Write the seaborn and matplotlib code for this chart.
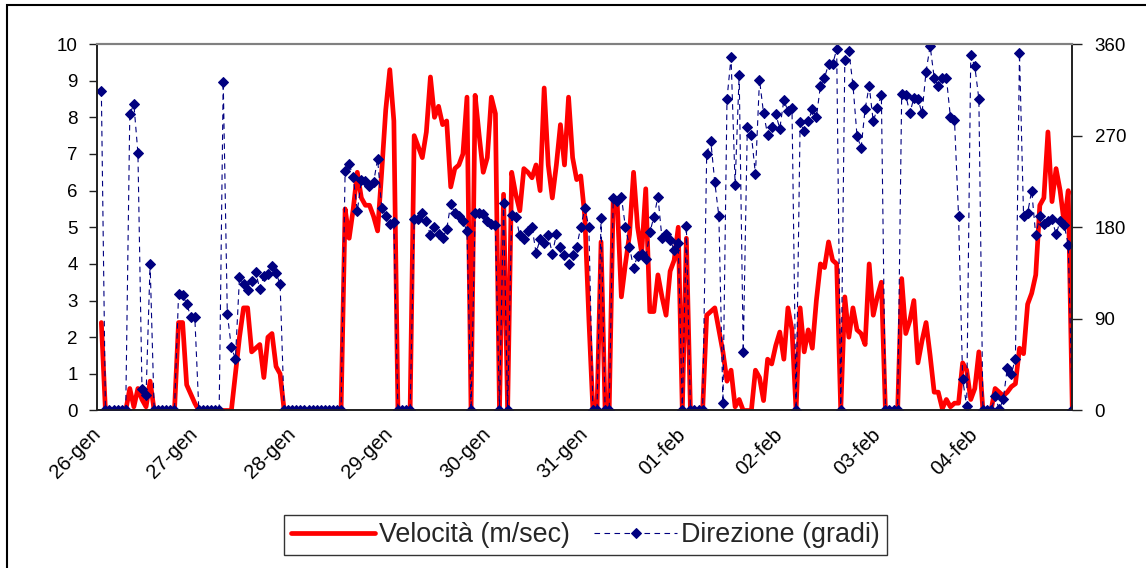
import numpy as np
import pandas as pd
import matplotlib
matplotlib.use("Agg")
import matplotlib.pyplot as plt
import seaborn as sns
from matplotlib.patches import Rectangle

# ---------------- data (hourly readings, 26-gen 01:00 .. 05-feb 00:00) ----------------
day_labels = ["26-gen", "27-gen", "28-gen", "29-gen", "30-gen",
              "31-gen", "01-feb", "02-feb", "03-feb", "04-feb"]
series_names = ["Velocità (m/sec)", "Direzione (gradi)"]
left_ticks = [0, 1, 2, 3, 4, 5, 6, 7, 8, 9, 10]
right_ticks = [0, 90, 180, 270, 360]

speed = [
    2.4, 0, 0, 0, 0, 0, 0, 0.6, 0.1, 0.6,
    0.3, 0.1, 0.8, 0, 0, 0, 0, 0, 0, 2.4,
    2.4, 0.7, 0.45, 0.2, 0, 0, 0, 0, 0, 0,
    0, 0, 0, 1.0, 2.0, 2.8, 2.8, 1.6, 1.7, 1.8,
    0.9, 2.0, 2.1, 1.2, 1.0, 0, 0, 0, 0, 0,
    0, 0, 0, 0, 0, 0, 0, 0, 0, 0,
    5.5, 4.7, 5.5, 6.5, 5.8, 5.6, 5.6, 5.3, 4.9, 6.5,
    8.2, 9.3, 7.9, 0, 0, 0, 0, 7.5, 7.2, 6.9,
    7.6, 9.1, 8.0, 8.3, 7.8, 7.9, 6.1, 6.6, 6.7, 7.0,
    8.55, 0, 8.6, 7.5, 6.5, 6.9, 8.55, 8.1, 0, 5.9,
    0, 6.5, 5.9, 5.45, 6.6, 6.5, 6.35, 6.7, 6.0, 8.8,
    6.7, 5.8, 6.7, 7.8, 6.7, 8.55, 6.9, 6.3, 6.4, 5.3,
    2.5, 0, 0, 4.6, 0, 0, 5.8, 5.6, 3.1, 4.0,
    4.8, 6.5, 5.0, 4.3, 6.05, 2.7, 2.7, 3.7, 3.1, 2.6,
    3.8, 4.1, 5.0, 0, 4.7, 0, 0, 0, 0, 2.6,
    2.7, 2.8, 2.2, 1.6, 0.8, 1.1, 0.1, 0.3, 0, 0,
    0, 1.1, 0.9, 0.27, 1.4, 1.27, 1.77, 2.14, 1.4, 2.8,
    2.2, 0, 2.8, 1.6, 2.2, 1.7, 3.0, 4.0, 3.9, 4.6,
    4.1, 4.0, 0, 3.1, 2.0, 2.8, 2.2, 2.1, 1.8, 4.0,
    2.6, 3.1, 3.5, 0, 0, 0, 0, 3.6, 2.1, 2.45,
    3.0, 1.3, 1.9, 2.4, 1.5, 0.5, 0.5, 0.05, 0.3, 0.1,
    0.2, 0.2, 1.3, 1.1, 0.3, 0.6, 1.6, 0, 0, 0,
    0.6, 0.5, 0.4, 0.5, 0.65, 0.73, 1.7, 1.55, 2.9, 3.2,
    3.7, 5.6, 5.8, 7.6, 5.7, 6.6, 6.0, 5.1, 6.0, 0,
]

direction = [
    314, 0, 0, 0, 0, 0, 0, 291, 301, 253,
    21, 15, 144, 0, 0, 0, 0, 0, 0, 114,
    113, 105, 92, 92, 0, 0, 0, 0, 0, 0,
    323, 95, 62, 51, 131, 124, 118, 127, 136, 119,
    132, 134, 142, 135, 124, 0, 0, 0, 0, 0,
    0, 0, 0, 0, 0, 0, 0, 0, 0, 0,
    235, 242, 229, 196, 226, 225, 221, 224, 247, 199,
    191, 183, 185, 0, 0, 0, 0, 188, 188, 194,
    186, 172, 180, 173, 169, 178, 203, 194, 191, 186,
    176, 0, 194, 194, 193, 186, 183, 182, 0, 204,
    0, 192, 190, 172, 168, 176, 180, 155, 168, 165,
    172, 154, 173, 161, 153, 144, 153, 161, 180, 199,
    180, 0, 0, 189, 0, 0, 209, 206, 210, 180,
    161, 140, 152, 154, 149, 175, 190, 210, 169, 173,
    167, 158, 165, 0, 181, 0, 0, 0, 0, 252,
    265, 224, 191, 7, 306, 347, 222, 330, 57, 278,
    271, 232, 325, 292, 271, 278, 291, 277, 305, 294,
    297, 0, 283, 275, 284, 296, 288, 319, 327, 340,
    340, 355, 0, 344, 353, 320, 270, 258, 296, 319,
    284, 297, 310, 0, 0, 0, 0, 311, 310, 292,
    307, 306, 292, 333, 358, 327, 319, 327, 327, 288,
    285, 191, 31, 4, 349, 338, 306, 0, 0, 0,
    14, 1, 11, 42, 36, 51, 351, 191, 194, 216,
    172, 191, 183, 186, 188, 173, 186, 182, 163, 0,
]

start = pd.Timestamp("2007-01-26")
times = pd.date_range(start + pd.Timedelta(hours=1), periods=len(speed), freq="h")
df = pd.DataFrame({"time": times, "speed": speed, "direction": direction})

# ---------------- style ----------------
sns.set_style("white")
plt.rcParams["font.family"] = ["Liberation Sans", "DejaVu Sans"]

RED = "#FF0000"
NAVY = "#000080"
AXC = "#202020"

fig = plt.figure(figsize=(11.46, 5.68), dpi=100)
ax = fig.add_axes([0.0849, 0.2773, 0.8508, 0.6452])
ax2 = ax.twinx()

sns.lineplot(data=df, x="time", y="speed", ax=ax, color=RED, linewidth=3.4,
             legend=False, errorbar=None)
sns.lineplot(data=df, x="time", y="direction", ax=ax2, color=NAVY, linewidth=0.8,
             linestyle=(0, (5, 4)), marker="D", markersize=5.0,
             markeredgecolor=NAVY, markerfacecolor=NAVY, legend=False, errorbar=None)

# ---------------- axes ----------------
day_ticks = [start + pd.Timedelta(days=k) for k in range(len(day_labels) + 1)]
ax.set_xlim(day_ticks[0], day_ticks[-1])
ax.set_xticks(day_ticks)
ax.set_xticklabels(day_labels + [""], rotation=45, ha="right", va="center",
                   rotation_mode="anchor", fontsize=14.5)
ax.set_ylim(0, 10)
ax.set_yticks(left_ticks)
ax.set_yticklabels([str(v) for v in left_ticks], fontsize=13.5)
ax2.set_ylim(0, 360)
ax2.set_yticks(right_ticks)
ax2.set_yticklabels([str(v) for v in right_ticks], fontsize=13.5)

for a in (ax, ax2):
    a.set_xlabel("")
    a.set_ylabel("")
    a.grid(False)
    for s in a.spines.values():
        s.set_color(AXC)
        s.set_linewidth(1.2)
    a.spines["top"].set_color("#808080")
    a.spines["top"].set_linewidth(1.5)

ax.tick_params(axis="x", direction="out", length=6, width=1, color=AXC,
               labelcolor="black", pad=9)
ax.tick_params(axis="y", direction="out", length=6, width=1, color=AXC,
               labelcolor="black", pad=8)
ax2.tick_params(axis="y", direction="out", length=7, width=1, color=AXC,
                labelcolor="black", pad=9)

# ---------------- legend ----------------
h1 = ax.get_lines()[0]
h2 = ax2.get_lines()[0]
leg = fig.legend([h1, h2], series_names, loc="center", bbox_to_anchor=(0.511, 0.058),
                 ncol=2, frameon=True, fancybox=False, edgecolor="black",
                 fontsize=19.4, handlelength=3.1, handletextpad=0.15,
                 columnspacing=0.9, borderpad=0.25, borderaxespad=0)
leg.get_frame().set_linewidth(1.0)

# outer chart-area border
fig.patches.append(Rectangle((7 / 1146, -0.05), 1.0, 1.0 - 5 / 568 + 0.05,
                             transform=fig.transFigure, fill=False,
                             edgecolor="black", linewidth=1.5, zorder=10))

fig.savefig("out.png", dpi=100, facecolor="white")
